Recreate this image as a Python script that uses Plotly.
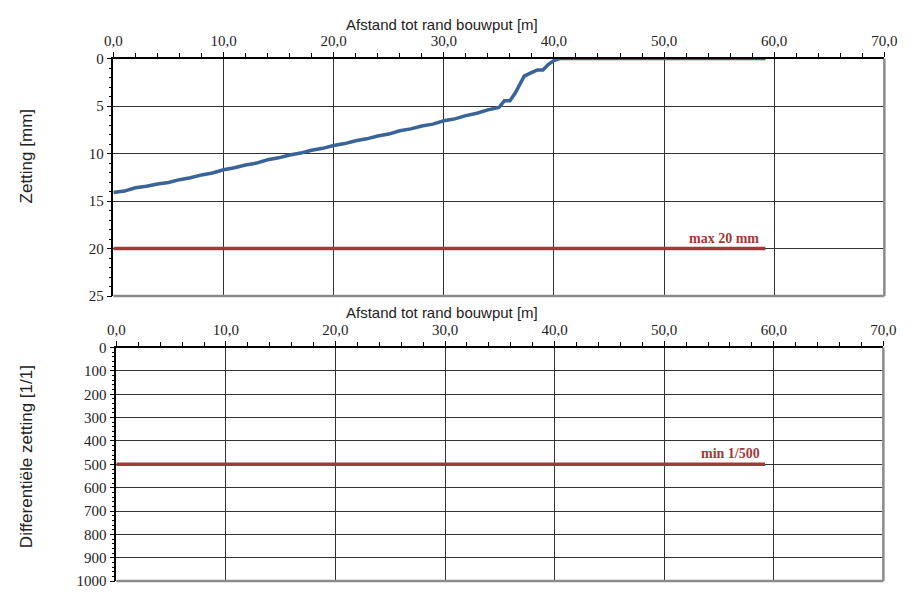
import plotly.graph_objects as go

# ---- data ----
afstand = [0, 1, 2, 3, 4, 5, 6, 7, 8, 9, 10, 11, 12, 13, 14, 15, 16, 17, 18, 19, 20,
           21, 22, 23, 24, 25, 26, 27, 28, 29, 30, 31, 32, 33, 34, 35, 35.5, 36, 36.5,
           37, 37.3, 38, 38.5, 39, 39.5, 40, 40.5, 41, 45, 50, 55, 59.2]
zetting = [14.1, 13.95, 13.6, 13.45, 13.2, 13.05, 12.75, 12.55, 12.25, 12.05, 11.7, 11.5,
           11.2, 11.0, 10.65, 10.45, 10.15, 9.95, 9.65, 9.45, 9.15, 8.95, 8.65, 8.45, 8.15,
           7.95, 7.6, 7.4, 7.1, 6.9, 6.55, 6.35, 6.0, 5.75, 5.4, 5.15, 4.45, 4.45, 3.6,
           2.5, 1.85, 1.45, 1.2, 1.2, 0.6, 0.2, 0.0, 0.0, 0.0, 0.0, 0.0, 0.0]
max_x = [0, 59.2]
max_zetting = [20, 20]
min_x = [0, 59.2]
min_diff = [500, 500]
max_label = "max 20 mm"
min_label = "min 1/500"
x_title = "Afstand tot rand bouwput [m]"
y1_title = "Zetting [mm]"
y2_title = "Differentiële zetting [1/1]"

BLUE = "#3A6398"
RED = "#A03A3A"
SERIF = "Liberation Serif, Times New Roman, serif"
SANS = "Liberation Sans, Arial, sans-serif"
W, H = 911, 593

fig = go.Figure()
fig.add_trace(go.Scatter(x=afstand, y=zetting, mode="lines",
                         line=dict(color=BLUE, width=3.5), xaxis="x", yaxis="y",
                         showlegend=False))
fig.add_trace(go.Scatter(x=max_x, y=max_zetting, mode="lines",
                         line=dict(color=RED, width=3.5), xaxis="x", yaxis="y",
                         showlegend=False))
fig.add_trace(go.Scatter(x=min_x, y=min_diff, mode="lines",
                         line=dict(color=RED, width=3.5), xaxis="x2", yaxis="y2",
                         showlegend=False))

tickfont = dict(family=SERIF, size=15, color="#222")

def xax(domain, anchor):
    return dict(domain=domain, anchor=anchor, side="top", range=[0, 70],
                tick0=0, dtick=10, tickformat=".1f", tickfont=tickfont,
                ticks="outside", ticklen=5, tickcolor="black",
                minor=dict(dtick=2, ticks="outside", ticklen=4, tickcolor="black",
                           showgrid=False),
                showgrid=True, gridcolor="#333", gridwidth=1,
                showline=True, linecolor="black", linewidth=1.5,
                zeroline=False, fixedrange=True)

def yax(domain, anchor, rng, dtick, mdtick):
    return dict(domain=domain, anchor=anchor, range=rng, tick0=0, dtick=dtick,
                tickfont=tickfont, ticks="outside", ticklen=5, tickcolor="black",
                minor=dict(dtick=mdtick, ticks="outside", ticklen=3, tickcolor="black",
                           showgrid=False),
                showgrid=True, gridcolor="#333", gridwidth=1,
                showline=True, linecolor="black", linewidth=1.5,
                zeroline=False, fixedrange=True)

fig.update_layout(
    width=W, height=H, margin=dict(l=0, r=0, t=0, b=0),
    paper_bgcolor="white", plot_bgcolor="white",
    separators=",.",
    xaxis=xax([107 / W, 897 / W], "y"),
    yaxis=yax([1 - 296 / H, 1 - 52 / H], "x", [25, 0], 5, 1),
    xaxis2=xax([110 / W, 896 / W], "y2"),
    yaxis2=yax([1 - 589 / H, 1 - 349 / H], "x2", [1000, 0], 100, 20),
)

# gray right / bottom borders
for xr, yr in (("x domain", "y domain"), ("x2 domain", "y2 domain")):
    fig.add_shape(type="line", xref=xr, yref=yr, x0=1, x1=1, y0=0, y1=1,
                  line=dict(color="#8a8a8a", width=2.5))
    fig.add_shape(type="line", xref=xr, yref=yr, x0=0, x1=1, y0=0, y1=0,
                  line=dict(color="#8a8a8a", width=2.5))

titlefont = dict(family=SANS, size=15, color="#222")
fig.add_annotation(text=x_title, xref="paper", yref="paper", x=444 / W, y=1 - 17 / H,
                   showarrow=False, font=titlefont, xanchor="center", yanchor="middle")
fig.add_annotation(text=x_title, xref="paper", yref="paper", x=444 / W, y=1 - 313 / H,
                   showarrow=False, font=titlefont, xanchor="center", yanchor="middle")
fig.add_annotation(text=y1_title, xref="paper", yref="paper", x=18 / W, y=1 - 153 / H,
                   showarrow=False, font=dict(family=SANS, size=17, color="#222"),
                   textangle=-90, xanchor="center", yanchor="middle")
fig.add_annotation(text=y2_title, xref="paper", yref="paper", x=18 / W, y=1 - 461 / H,
                   showarrow=False, font=dict(family=SANS, size=17, color="#222"),
                   textangle=-90, xanchor="center", yanchor="middle")

labfont = dict(family=SERIF, size=14, color=RED, weight="bold")
fig.add_annotation(text="<b>" + max_label + "</b>", x=max_x[1] - 0.4, y=max_zetting[0],
                   xref="x", yref="y", showarrow=False, font=labfont,
                   xanchor="right", yanchor="bottom", yshift=1)
fig.add_annotation(text="<b>" + min_label + "</b>", x=min_x[1] - 0.3, y=min_diff[0],
                   xref="x2", yref="y2", showarrow=False, font=labfont,
                   xanchor="right", yanchor="bottom", yshift=1)

fig.write_html("out.html")
